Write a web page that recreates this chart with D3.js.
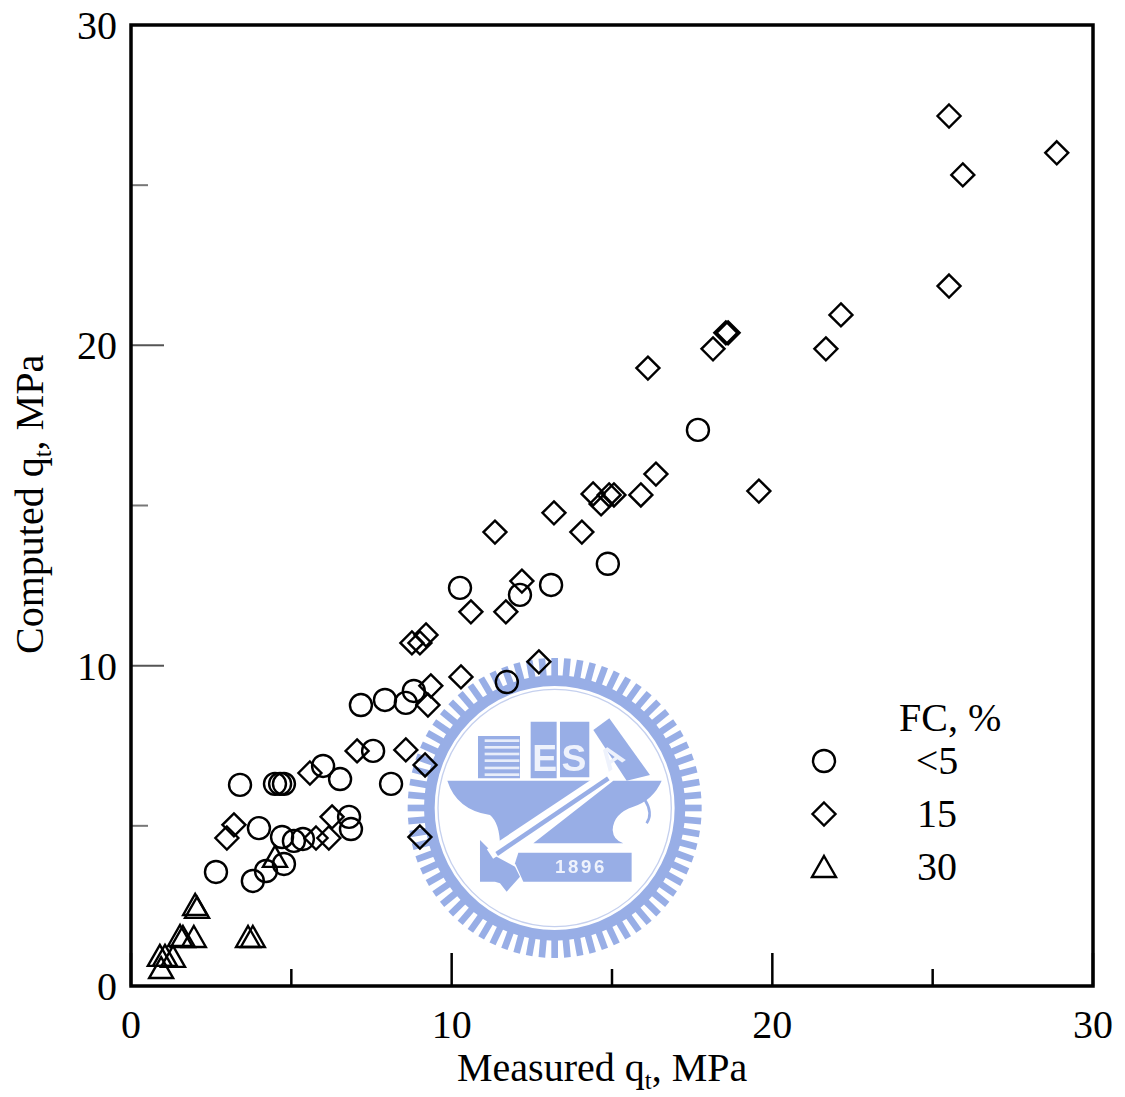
<!DOCTYPE html>
<html><head><meta charset="utf-8">
<script src="https://cdn.jsdelivr.net/npm/d3@7"></script>
<style>html,body{margin:0;padding:0;background:#fff}svg{display:block}text{font-family:"Liberation Serif",serif;fill:#000}</style>
</head><body><svg id="c" width="1125" height="1097"></svg>
<script>
const circleX=[17.68,14.87,10.26,12.13,13.10,11.72,7.17,7.92,8.57,8.82,7.55,6.52,5.99,8.11,3.40,4.49,4.65,4.77,3.99,6.80,6.86,4.71,5.08,5.36,4.77,4.21,3.80,2.65];
const circleY=[17.36,13.18,12.43,12.21,12.52,9.49,8.77,8.93,8.84,9.21,7.34,6.46,6.87,6.31,6.28,6.31,6.31,6.31,4.93,5.28,4.90,4.65,4.53,4.59,3.81,3.59,3.28,3.56];
const diamondX=[25.51,28.87,25.94,25.51,22.14,21.67,18.62,18.55,18.15,16.12,16.37,19.58,15.90,15.06,14.91,14.41,14.66,13.19,14.06,11.35,12.19,10.60,11.69,9.20,9.01,8.76,10.29,12.72,9.35,9.26,7.05,8.57,9.17,5.58,3.21,2.99,6.27,5.77,6.17,9.01];
const diamondY=[27.16,26.01,25.32,21.85,20.95,19.89,20.39,20.39,19.89,19.29,15.98,15.45,15.33,15.33,15.33,15.36,15.05,14.77,14.17,14.17,12.64,11.68,11.68,10.96,10.71,10.71,9.65,10.12,9.37,8.77,7.34,7.37,6.90,6.65,5.03,4.62,5.28,4.62,4.62,4.65];
const triangleX=[4.49,2.00,2.06,1.96,1.53,1.62,3.65,3.80,0.90,1.06,1.31,0.94];
const triangleY=[4.03,2.53,2.44,1.53,1.56,1.53,1.53,1.53,0.94,0.94,0.91,0.56];
const majorTicks=[0,10,20,30];
const minorTicks=[5,15,25];
const legendLabels=["<5","15","30"];

const svg=d3.select("#c");
const x=d3.scaleLinear().domain([0,30]).range([131,1093]);
const y=d3.scaleLinear().domain([0,30]).range([986,25]);

// watermark (seal behind the data)
const wmBlue="#98aee6";
const wm=svg.append("g").attr("transform","translate(400,650) scale(0.3333)").attr("fill",wmBlue).style("filter","blur(0.7px)");
const cx=464,cy=474;
wm.append("g").selectAll("line").data(d3.range(72)).join("line")
  .attr("x1",d=>cx+385*Math.cos(d*Math.PI/36)).attr("y1",d=>cy+395*Math.sin(d*Math.PI/36))
  .attr("x2",d=>cx+441*Math.cos(d*Math.PI/36)).attr("y2",d=>cy+450*Math.sin(d*Math.PI/36))
  .attr("stroke",wmBlue).attr("stroke-width",20);
wm.append("ellipse").attr("cx",cx).attr("cy",cy).attr("rx",376).attr("ry",382).attr("fill","none").attr("stroke",wmBlue).attr("stroke-width",32);
wm.append("ellipse").attr("cx",cx).attr("cy",cy).attr("rx",350).attr("ry",356).attr("fill","none").attr("stroke","#c5d0ee").attr("stroke-width",4);
const wmShapes=[
 "M234,258H360V385H234Z","M392,215H470V385H392Z","M480,215H568V382H480Z","M580,240L628,205L750,375L680,392Z",
 "M142,392H590L300,590Q300,520 270,495Q170,480 142,392Z",
 "M640,392H785Q760,450 700,470Q640,490 638,540Q640,570 670,580H400Z",
 "M355,608H695V695H370L345,640Z",
 "M240,570L290,620L345,650L360,680L320,725L300,700L285,695L240,695Z"
];
wm.append("g").selectAll("path").data(wmShapes).join("path").attr("d",d=>d);
wm.append("g").selectAll("rect").data([268,288,308,328,350,370]).join("rect")
  .attr("x",254).attr("y",d=>d).attr("width",104).attr("height",8).attr("fill","#e8edfa");
wm.append("path").attr("d","M270,612L630,372").attr("stroke","#fff").attr("stroke-width",34).attr("fill","none");
wm.append("path").attr("d","M290,612L625,385").attr("stroke",wmBlue).attr("stroke-width",14).attr("fill","none");
wm.append("path").attr("d","M735,450Q760,490 740,520").attr("stroke",wmBlue).attr("stroke-width",8).attr("fill","none");
const wmText=[["E",434,362,"0",112],["S",522,362,"0",112],["A",652,348,"-35",92],["1896",543,668,"0",56]];
wm.append("g").selectAll("text").data(wmText).join("text")
  .attr("transform",d=>`translate(${d[1]},${d[2]}) rotate(${d[3]})`).attr("font-size",d=>d[4]).attr("text-anchor","middle")
  .attr("letter-spacing",d=>d[0]==="1896"?8:0)
  .style("font-family","'Liberation Sans',sans-serif").style("font-weight","bold").style("fill","#eef2fc").text(d=>d[0]);

// ticks
const tickW=2.5;
svg.append("g").selectAll("line").data(majorTicks).join("line")
  .attr("x1",d=>x(d)).attr("x2",d=>x(d)).attr("y1",986).attr("y2",953).attr("stroke","#000").attr("stroke-width",tickW);
svg.append("g").selectAll("line").data(minorTicks).join("line")
  .attr("x1",d=>x(d)).attr("x2",d=>x(d)).attr("y1",986).attr("y2",969).attr("stroke","#000").attr("stroke-width",tickW);
svg.append("g").selectAll("line").data(majorTicks).join("line")
  .attr("y1",d=>y(d)).attr("y2",d=>y(d)).attr("x1",131).attr("x2",164).attr("stroke","#555").attr("stroke-width",2);
svg.append("g").selectAll("line").data(minorTicks).join("line")
  .attr("y1",d=>y(d)).attr("y2",d=>y(d)).attr("x1",131).attr("x2",148).attr("stroke","#777").attr("stroke-width",2);
svg.append("rect").attr("x",131).attr("y",25).attr("width",962).attr("height",961).attr("fill","none").attr("stroke","#000").attr("stroke-width",3.5);

// tick labels
const fs=40;
svg.append("g").selectAll("text").data(majorTicks).join("text")
  .attr("x",d=>x(d)).attr("y",1038).attr("text-anchor","middle").attr("font-size",fs).text(d=>d);
svg.append("g").selectAll("text").data(majorTicks).join("text")
  .attr("x",117).attr("y",d=>y(d)+14).attr("text-anchor","end").attr("font-size",fs).text(d=>d);

// axis titles
const xt=svg.append("text").attr("x",457).attr("y",1081).attr("font-size",fs);
xt.append("tspan").text("Measured q");
xt.append("tspan").attr("dy",8).attr("font-size",25).text("t");
xt.append("tspan").attr("dy",-8).text(", MPa");
const yt=svg.append("text").attr("transform","translate(43,654) rotate(-90)").attr("font-size",fs);
yt.append("tspan").text("Computed q");
yt.append("tspan").attr("dy",8).attr("font-size",25).text("t");
yt.append("tspan").attr("dy",-8).text(", MPa");

// markers
const sw=2.4;
const diamondPath="M0,-11.5L11.5,0L0,11.5L-11.5,0Z";
const trianglePath="M0,-11L12,10H-12Z";
function marks(cls,xs,ys,draw){
  const g=svg.append("g").attr("fill","none").attr("stroke","#000").attr("stroke-width",sw);
  draw(g.selectAll("."+cls).data(xs.map((v,i)=>[v,ys[i]])).join(cls==="c"?"circle":"path"));
}
marks("c",circleX,circleY,s=>s.attr("cx",d=>x(d[0])).attr("cy",d=>y(d[1])).attr("r",11));
marks("d",diamondX,diamondY,s=>s.attr("d",diamondPath).attr("transform",d=>`translate(${x(d[0])},${y(d[1])})`));
marks("t",triangleX,triangleY,s=>s.attr("d",trianglePath).attr("transform",d=>`translate(${x(d[0])},${y(d[1])})`));

// legend
svg.append("text").attr("x",899).attr("y",731).attr("font-size",fs).text("FC, %");
const ly=[761,814,867];
const lg=svg.append("g").attr("fill","none").attr("stroke","#000").attr("stroke-width",sw);
lg.append("circle").attr("cx",824).attr("cy",ly[0]).attr("r",11);
lg.append("path").attr("d",diamondPath).attr("transform",`translate(824,${ly[1]})`);
lg.append("path").attr("d",trianglePath).attr("transform",`translate(824,${ly[2]})`);
svg.append("g").selectAll("text").data(legendLabels).join("text")
  .attr("x",937).attr("y",(d,i)=>ly[i]+13).attr("text-anchor","middle").attr("font-size",fs).text(d=>d);
</script></body></html>
